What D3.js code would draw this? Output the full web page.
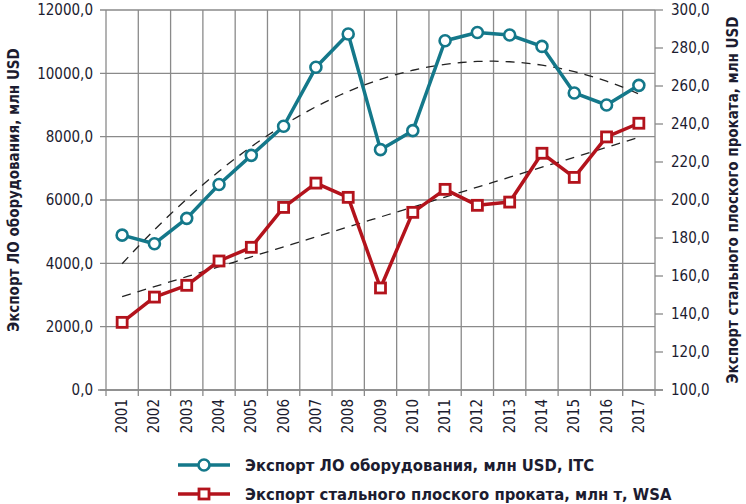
<!DOCTYPE html>
<html>
<head>
<meta charset="utf-8">
<script src="https://cdn.jsdelivr.net/npm/d3@7"></script>
<style>
  body { margin: 0; background: #fff; }
  text { font-family: "Liberation Sans Narrow", "DejaVu Sans Condensed", sans-serif; fill: #1c1c30; }
  .tick-label { font-size: 15px; }
  .axis-title { font-size: 15px; font-weight: bold; }
  .legend-text { font-size: 16.5px; font-weight: bold; }
</style>
</head>
<body>
<div id="chart"></div>
<script>
// data
var years = ["2001","2002","2003","2004","2005","2006","2007","2008","2009",
             "2010","2011","2012","2013","2014","2015","2016","2017"];
var equipExport = [4890, 4620, 5420, 6490, 7410, 8330, 10190, 11240, 7590,
                   8190, 11030, 11290, 11210, 10850, 9380, 9000, 9620];
var steelExport = [135.6, 148.9, 155.1, 167.9, 175.1, 196.1, 208.9, 201.4, 153.7,
                   193.5, 205.6, 197.2, 198.9, 224.6, 211.9, 233.2, 240.4];
var leftTicks = [0, 2000, 4000, 6000, 8000, 10000, 12000];
var rightTicks = [100, 120, 140, 160, 180, 200, 220, 240, 260, 280, 300];
var legendLabels = ["Экспорт ЛО оборудования, млн USD, ITC",
                    "Экспорт стального плоского проката, млн т, WSA"];

var svgWidth = 746;
var svgHeight = 504;
var margin = { top: 10, right: 91, bottom: 114, left: 106 };
var width = svgWidth - margin.left - margin.right;
var height = svgHeight - margin.top - margin.bottom;

var teal = "#14788a";
var red = "#b3131c";
var grid = "#8a8a8a";

var svg = d3.select("#chart")
  .append("svg")
  .attr("width", svgWidth)
  .attr("height", svgHeight);

var chartGroup = svg.append("g")
  .attr("transform", `translate(${margin.left}, ${margin.top})`);

var xScale = d3.scaleBand().domain(years).range([0, width]).padding(0);
var yLeft = d3.scaleLinear().domain([0, 12000]).range([height, 0]);
var yRight = d3.scaleLinear().domain([100, 300]).range([height, 0]);
var xc = d => xScale(d) + xScale.bandwidth() / 2;

// least squares polynomial fit, like the spreadsheet trend lines
function polyfit(ys, order) {
  var n = order + 1;
  var A = [], b = [];
  for (var i = 0; i < n; i++) {
    A.push(new Array(n).fill(0));
    b.push(0);
  }
  ys.forEach(function(y, k) {
    var x = k + 1;
    for (var i = 0; i < n; i++) {
      for (var j = 0; j < n; j++) A[i][j] += Math.pow(x, i + j);
      b[i] += y * Math.pow(x, i);
    }
  });
  // gaussian elimination
  for (var c = 0; c < n; c++) {
    for (var r = c + 1; r < n; r++) {
      var f = A[r][c] / A[c][c];
      for (var j = c; j < n; j++) A[r][j] -= f * A[c][j];
      b[r] -= f * b[c];
    }
  }
  var coef = new Array(n).fill(0);
  for (var r = n - 1; r >= 0; r--) {
    var s = b[r];
    for (var j = r + 1; j < n; j++) s -= A[r][j] * coef[j];
    coef[r] = s / A[r][r];
  }
  return function(x) {
    return coef.reduce((acc, c, i) => acc + c * Math.pow(x, i), 0);
  };
}

// gridlines
chartGroup.append("g").selectAll("line")
  .data(leftTicks)
  .enter()
  .append("line")
  .attr("x1", -6).attr("x2", width)
  .attr("y1", d => yLeft(d)).attr("y2", d => yLeft(d))
  .attr("stroke", grid).attr("stroke-width", 1.3);

var edges = years.map(d => xScale(d)).concat([width]);
chartGroup.append("g").selectAll("line")
  .data(edges)
  .enter()
  .append("line")
  .attr("x1", d => d).attr("x2", d => d)
  .attr("y1", 0).attr("y2", height + 6)
  .attr("stroke", grid).attr("stroke-width", 1.3);

// x axis line
chartGroup.append("line")
  .attr("x1", -8).attr("x2", width + 8)
  .attr("y1", height).attr("y2", height)
  .attr("stroke", grid).attr("stroke-width", 1.3);

// right axis ticks
chartGroup.append("g").selectAll("line")
  .data(rightTicks)
  .enter()
  .append("line")
  .attr("x1", width).attr("x2", width + 8)
  .attr("y1", d => yRight(d)).attr("y2", d => yRight(d))
  .attr("stroke", grid).attr("stroke-width", 1.3);

// tick labels
chartGroup.append("g").selectAll("text")
  .data(leftTicks)
  .enter()
  .append("text")
  .attr("x", -13)
  .attr("y", d => yLeft(d))
  .attr("dy", "0.35em")
  .attr("text-anchor", "end")
  .classed("tick-label", true)
  .text(d => d.toFixed(1).replace(".", ","));

chartGroup.append("g").selectAll("text")
  .data(rightTicks)
  .enter()
  .append("text")
  .attr("x", width + 16)
  .attr("y", d => yRight(d))
  .attr("dy", "0.35em")
  .classed("tick-label", true)
  .text(d => d.toFixed(1).replace(".", ","));

chartGroup.append("g").selectAll("text")
  .data(years)
  .enter()
  .append("text")
  .attr("transform", d => `translate(${xc(d) + 5}, ${height + 9}) rotate(-90)`)
  .attr("text-anchor", "end")
  .classed("tick-label", true)
  .text(d => d);

// trend lines
var equipTrend = polyfit(equipExport, 2);
var steelTrend = polyfit(steelExport, 1);
var trendPts = d3.range(1, 17.001, 0.25);
var xTrend = d3.scaleLinear().domain([1, 17]).range([xc(years[0]), xc(years[years.length - 1])]);

chartGroup.append("path")
  .datum(trendPts)
  .attr("d", d3.line().x(t => xTrend(t)).y(t => yLeft(equipTrend(t))))
  .attr("fill", "none").attr("stroke", "#222").attr("stroke-width", 1.3)
  .attr("stroke-dasharray", "9,7");

chartGroup.append("path")
  .datum(trendPts)
  .attr("d", d3.line().x(t => xTrend(t)).y(t => yRight(steelTrend(t))))
  .attr("fill", "none").attr("stroke", "#222").attr("stroke-width", 1.3)
  .attr("stroke-dasharray", "9,7");

// series lines
chartGroup.append("path")
  .datum(equipExport)
  .attr("d", d3.line().x((d, i) => xc(years[i])).y(d => yLeft(d)))
  .attr("fill", "none").attr("stroke", teal).attr("stroke-width", 3.5)
  .attr("stroke-linejoin", "round");

chartGroup.append("path")
  .datum(steelExport)
  .attr("d", d3.line().x((d, i) => xc(years[i])).y(d => yRight(d)))
  .attr("fill", "none").attr("stroke", red).attr("stroke-width", 3.5)
  .attr("stroke-linejoin", "round");

// markers
chartGroup.append("g").selectAll("circle")
  .data(equipExport)
  .enter()
  .append("circle")
  .attr("cx", (d, i) => xc(years[i]))
  .attr("cy", d => yLeft(d))
  .attr("r", 5.5)
  .attr("fill", "#fff").attr("stroke", teal).attr("stroke-width", 2.6);

chartGroup.append("g").selectAll("rect")
  .data(steelExport)
  .enter()
  .append("rect")
  .attr("x", (d, i) => xc(years[i]) - 5)
  .attr("y", d => yRight(d) - 5)
  .attr("width", 10).attr("height", 10)
  .attr("fill", "#fff").attr("stroke", red).attr("stroke-width", 2.8);

// axis titles
svg.append("text")
  .attr("transform", "translate(19, 190) rotate(-90)")
  .attr("text-anchor", "middle")
  .classed("axis-title", true)
  .text("Экспорт ЛО оборудования, млн USD");

svg.append("text")
  .attr("transform", "translate(738, 200) rotate(-90)")
  .attr("text-anchor", "middle")
  .classed("axis-title", true)
  .text("Экспорт стального плоского проката, млн USD");

// legend
var legend = svg.append("g");
var legendY = [465, 494];
legend.append("line")
  .attr("x1", 178).attr("x2", 230).attr("y1", legendY[0]).attr("y2", legendY[0])
  .attr("stroke", teal).attr("stroke-width", 3.5);
legend.append("circle")
  .attr("cx", 204).attr("cy", legendY[0]).attr("r", 5.5)
  .attr("fill", "#fff").attr("stroke", teal).attr("stroke-width", 2.6);
legend.append("line")
  .attr("x1", 178).attr("x2", 230).attr("y1", legendY[1]).attr("y2", legendY[1])
  .attr("stroke", red).attr("stroke-width", 3.5);
legend.append("rect")
  .attr("x", 199).attr("y", legendY[1] - 5).attr("width", 10).attr("height", 10)
  .attr("fill", "#fff").attr("stroke", red).attr("stroke-width", 2.8);

legend.selectAll("text")
  .data(legendLabels)
  .enter()
  .append("text")
  .attr("x", 245)
  .attr("y", (d, i) => legendY[i])
  .attr("dy", "0.35em")
  .classed("legend-text", true)
  .text(d => d);
</script>
</body>
</html>
